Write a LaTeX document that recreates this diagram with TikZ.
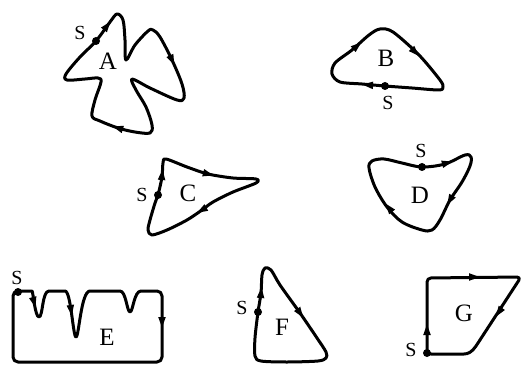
\documentclass[tikz,border=0pt]{standalone}
\usepackage{fontspec}
\setmainfont{Liberation Serif}
\newcommand\arrowmark[3]{\fill[shift={(#1,#2)},rotate=#3] (5.5,0) -- (-5,3.8) -- (-5,-3.8) -- cycle;}
\begin{document}
\begin{tikzpicture}[x=1pt,y=-1pt,
  curve/.style={line width=3pt, line join=round, line cap=round},
  lbl/.style={font=\fontsize{25}{25}\selectfont, inner sep=0pt},
  slbl/.style={font=\fontsize{20}{20}\selectfont, inner sep=0pt},
  startdot/.style={circle, fill, inner sep=0pt, minimum size=8pt}]
\useasboundingbox (0,0) rectangle (524,366);

% ---------- A ----------
\draw[curve] plot[smooth cycle, tension=0.55] coordinates {
 (96,41) (110,22) (117,14) (123,20) (125,40) (126,60) (135,45) (148,31) (153,30)
 (160,37) (172,60) (182,84) (184,98) (177,100) (150,88) (132,79) (136,90) (146,107)
 (152,125) (150,133) (135,132) (118,128) (100,121) (92,116) (95,100) (101,82)
 (98,78) (85,79) (67,80) (66,74) (80,57)};
\node[startdot] (sA) at (96,41) {};
\arrowmark{107}{26}{52}
\arrowmark{172}{60}{-65}
\arrowmark{118}{128}{163}
\node[lbl] (lA) at (108,61) {A};
\node[slbl] (tA) at (80,33) {S};

% ---------- B ----------
\draw[curve] plot[smooth cycle, tension=0.5] coordinates {
 (385,86) (362,84) (340,82) (332,74) (335,63) (352,50) (369,35) (380,29) (393,32)
 (419,55) (440,80) (443,87) (439,90) (412,88)};
\node[startdot] (sB) at (385,86) {};
\arrowmark{357}{46}{40}
\arrowmark{415}{52}{-46}
\arrowmark{368}{85}{176}
\node[lbl] (lB) at (386,58) {B};
\node[slbl] (tB) at (388,103) {S};

% ---------- C ----------
\draw[curve] plot[smooth cycle, tension=0.5] coordinates {
 (158,195) (162,177) (163,163) (166,159) (187,167) (208,174) (233,178) (256,179)
 (256,183) (233,192) (213,202) (202,210) (187,220) (167,230) (152,235) (148,230)
 (150,220) (155,203)};
\node[startdot] (sC) at (158,195) {};
\arrowmark{162}{175}{85}
\arrowmark{208}{174}{-15}
\arrowmark{202}{210}{210}
\node[lbl] (lC) at (188,193) {C};
\node[slbl] (tC) at (142,195) {S};

% ---------- D ----------
\draw[curve] plot[smooth cycle, tension=0.55] coordinates {
 (422,167) (445,164) (465,155) (471,157) (470,166) (462,182) (450,200) (440,220)
 (432,230) (422,230) (402,222) (387,207) (375,187) (369,168) (372,161) (384,159)
 (402,163)};
\node[startdot] (sD) at (422,167) {};
\arrowmark{447}{163}{15}
\arrowmark{450}{200}{-120}
\arrowmark{389}{208}{128}
\node[lbl] (lD) at (420,195) {D};
\node[slbl] (tD) at (421,151) {S};

% ---------- E ----------
\draw[curve] (13,330) [rounded corners=5pt] -- (13,291) -- (27,291) [sharp corners]
  .. controls (33,291) and (35,317) .. (39,317)
  .. controls (43,317) and (42,291) .. (49,291) -- (65,291)
  .. controls (71,291) and (73,337) .. (76,337)
  .. controls (79,337) and (81,291) .. (90,291) -- (120,291)
  .. controls (126,291) and (127,312) .. (130,312)
  .. controls (133,312) and (134,291) .. (141,291)
  [rounded corners=5pt] -- (162,291) -- (162,362) -- (13,362) -- cycle;
\node[startdot] (sE) at (18,292) {};
\arrowmark{34}{302}{-75}
\arrowmark{71}{310}{-82}
\arrowmark{162}{322}{-90}
\node[lbl] (lE) at (107,337) {E};
\node[slbl] (tE) at (17,278) {S};

% ---------- F ----------
\draw[curve] plot[smooth cycle, tension=0.5] coordinates {
 (258,312) (261,293) (262,275) (265,268) (271,270) (280,285) (300,313) (317,338)
 (326,352) (326,358) (318,361) (287,362) (261,361) (255,356) (255,338)};
\node[startdot] (sF) at (258,312) {};
\arrowmark{261}{293}{85}
\arrowmark{300}{313}{-55}
\node[lbl] (lF) at (282,327) {F};
\node[slbl] (tF) at (242,308) {S};

% ---------- G ----------
\draw[curve, rounded corners=4pt] (427,354) -- (427,278) -- (521,277) -- (478,343)
  .. controls (472,352) and (468,354) .. (460,354) -- cycle;
\node[startdot] (sG) at (427,353) {};
\arrowmark{427}{330}{90}
\arrowmark{474}{277}{0}
\arrowmark{499}{312}{236}
\node[lbl] (lG) at (464,313) {G};
\node[slbl] (tG) at (411,350) {S};
\end{tikzpicture}
\end{document}
